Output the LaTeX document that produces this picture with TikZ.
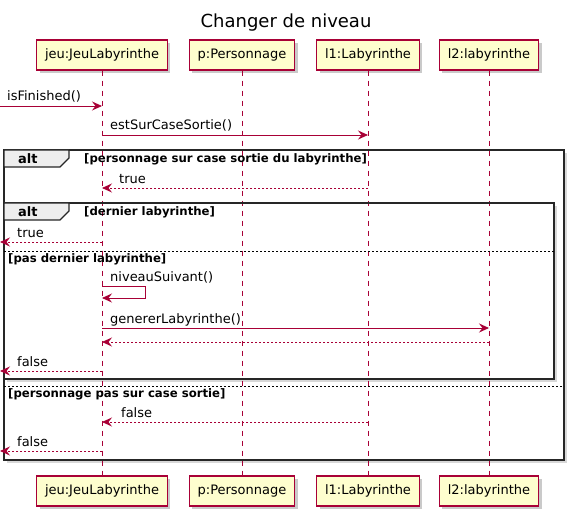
\documentclass[tikz,border=0pt]{standalone}
\usepackage{fontspec}
\setmainfont{DejaVu Sans}
\usetikzlibrary{arrows.meta,shadows}

\definecolor{seqred}{HTML}{A80036}
\definecolor{seqyellow}{HTML}{FEFECE}
\definecolor{tabgray}{HTML}{EEEEEE}

\begin{document}
\begin{tikzpicture}[x=1pt, y=-1pt,
		acteur/.style={draw=seqred, fill=seqyellow, line width=1.1pt, minimum height=30pt,
			inner xsep=8.5pt, font=\fontsize{13}{15}\selectfont,
			drop shadow={shadow xshift=3pt, shadow yshift=-3pt, fill=black!35, opacity=0.6}},
		lifeline/.style={seqred, line width=0.8pt, dash pattern=on 5pt off 5pt},
		msg/.style={seqred, line width=0.9pt, -{Stealth[length=10pt, width=9pt, inset=3.5pt]}},
		retour/.style={msg, dash pattern=on 2pt off 2pt},
		txt/.style={anchor=base west, inner sep=0pt, font=\fontsize{13}{15}\selectfont},
		garde/.style={anchor=base west, inner sep=0pt, font=\fontsize{11.7}{13}\selectfont\bfseries},
		cadre/.style={line width=1.6pt, black!85},
		ombre/.style={fill=white, drop shadow={shadow xshift=3pt, shadow yshift=-3pt, fill=black!30, opacity=0.5}},
		onglet/.style={line width=1.2pt, black!85, fill=tabgray},
		separe/.style={line width=0.8pt, dash pattern=on 2pt off 2pt}]
	\useasboundingbox (0, 0) rectangle (577, 518);
	
	\node[anchor=base] (titre) at (286, 28) {\fontsize{18}{20}\selectfont Changer de niveau};
	
	% participants en haut et en bas
	\node[acteur] (jeu) at (102, 55) {jeu:JeuLabyrinthe};
	\node[acteur] (p) at (242, 55) {p:Personnage};
	\node[acteur] (lun) at (368, 55) {l1:Labyrinthe};
	\node[acteur] (ldeux) at (489, 55) {l2:labyrinthe};
	\node[acteur] (jeuB) at (102, 491) {jeu:JeuLabyrinthe};
	\node[acteur] (pB) at (242, 491) {p:Personnage};
	\node[acteur] (lunB) at (368, 491) {l1:Labyrinthe};
	\node[acteur] (ldeuxB) at (489, 491) {l2:labyrinthe};
	
	% cadres alt
	\draw[cadre, ombre] (4, 150) rectangle (564, 460);
	\draw[cadre, ombre] (4, 203) rectangle (554, 379);
	
	\foreach \a in {jeu, p, lun, ldeux} \draw[lifeline] (\a) -- (\a B);
	
	\draw[cadre] (4, 150) rectangle (564, 460);
	\draw[cadre] (4, 203) rectangle (554, 379);
	\draw[onglet] (4, 150) -- (69, 150) -- (69, 158) -- (60, 167) -- (4, 167) -- cycle;
	\draw[onglet] (4, 203) -- (69, 203) -- (69, 211) -- (60, 220) -- (4, 220) -- cycle;
	\node[garde, font=\fontsize{13}{15}\selectfont\bfseries] (alta) at (18, 164) {alt};
	\node[garde, font=\fontsize{13}{15}\selectfont\bfseries] (altb) at (18, 217) {alt};
	\node[garde] (gardea) at (84, 163) {[personnage sur case sortie du labyrinthe]};
	\node[garde] (gardeb) at (84, 216) {[dernier labyrinthe]};
	
	\draw[separe] (4, 251) -- (554, 251);
	\node[garde] (gardec) at (8, 262) {[pas dernier labyrinthe]};
	\draw[separe] (4, 386) -- (564, 386);
	\node[garde] (garded) at (8, 397) {[personnage pas sur case sortie]};
	
	% messages
	\coordinate (gauche) at (0, 0);
	\draw[msg] (gauche |- 0, 106) -- (jeu |- 0, 106);
	\node[txt] (m1) at (7, 101) {isFinished()};
	\draw[msg] (jeu |- 0, 135) -- (lun |- 0, 135);
	\node[txt] (m2) at (110, 130) {estSurCaseSortie()};
	\draw[retour] (lun |- 0, 188) -- (jeu |- 0, 188);
	\node[txt] (m3) at (119, 184) {true};
	\draw[retour] (jeu |- 0, 242) -- (gauche |- 0, 242);
	\node[txt] (m4) at (17, 237) {true};
	\draw[msg] (jeu |- 0, 286) -- (145, 286) -- (145, 298) -- (jeu |- 0, 298);
	\node[txt] (m5) at (110, 281) {niveauSuivant()};
	\draw[msg] (jeu |- 0, 328) -- (ldeux |- 0, 328);
	\node[txt] (m6) at (110, 323) {genererLabyrinthe()};
	\draw[retour] (ldeux |- 0, 342) -- (jeu |- 0, 342);
	\draw[retour] (jeu |- 0, 371) -- (gauche |- 0, 371);
	\node[txt] (m7) at (17, 366) {false};
	\draw[retour] (lun |- 0, 422) -- (jeu |- 0, 422);
	\node[txt] (m8) at (121, 417) {false};
	\draw[retour] (jeu |- 0, 451) -- (gauche |- 0, 451);
	\node[txt] (m9) at (17, 446) {false};
\end{tikzpicture}
\end{document}
